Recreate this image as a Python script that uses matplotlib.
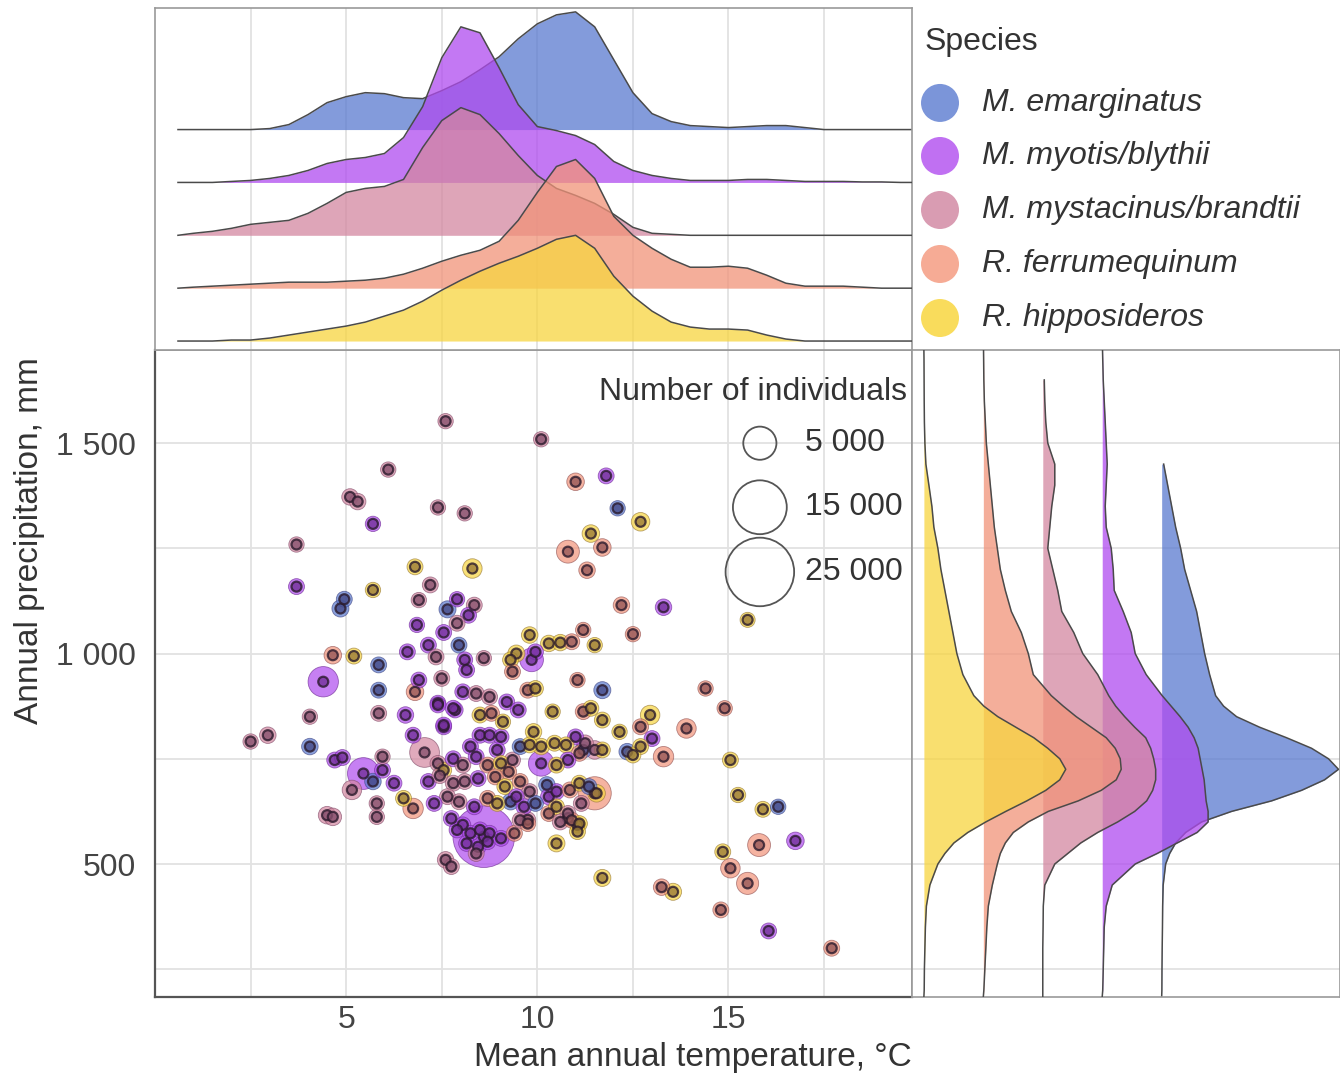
import numpy as np
import matplotlib
matplotlib.use('Agg')
import matplotlib.pyplot as plt
from matplotlib.colors import to_rgb

plt.rcParams['font.family'] = ['Liberation Sans', 'DejaVu Sans']
TXT = '#333333'

SPECIES = ['M. emarginatus', 'M. myotis/blythii', 'M. mystacinus/brandtii',
           'R. ferrumequinum', 'R. hipposideros']
FILL = ['#5a7acf', '#af4bef', '#d387a0', '#f19379', '#f7d53f']
LEG_COL = ['#7b95d9', '#c070f2', '#d99cb2', '#f6ab95', '#f9dc5c']

# sites: temperature (C), precipitation (mm), species index, number of individuals
TEMP = [7.6, 10.1, 6.1, 11.8, 11.0, 5.1, 5.3, 7.4, 8.1, 12.1, 12.7, 5.7, 11.4, 11.7, 10.8,
        3.7, 11.3, 8.3, 6.8, 3.7, 7.2, 5.7, 4.95, 4.85, 6.9, 7.9, 7.65, 8.35, 8.2, 7.9,
        12.2, 13.3, 15.5, 9.8, 10.3, 10.6, 10.9, 11.2, 11.5, 12.5, 6.85, 7.55, 7.95, 7.15,
        7.35, 6.6, 8.1, 4.65, 5.2, 5.85, 9.85, 9.45, 9.95, 9.3, 4.4, 11.05, 14.4, 11.7,
        5.85, 6.8, 6.9, 4.05, 2.5, 2.95, 4.05, 5.85, 6.55, 6.75, 7.55, 7.85, 10.4, 11.2,
        11.4, 11.7, 12.15, 12.95, 12.7, 13.0, 13.9, 14.9, 15.05, 15.25, 15.9, 16.3, 16.75,
        15.8, 14.85, 15.05, 15.5, 14.8, 16.05, 17.7, 11.7, 13.25, 13.55, 13.3, 12.7, 12.35,
        11.2, 11.0, 11.5, 10.5, 11.05, 10.8, 10.3, 9.75, 9.3, 8.6, 7.6, 7.75, 7.05, 5.45,
        5.7, 5.15, 5.8, 5.8, 4.5, 4.65, 4.7, 4.9, 6.75, 6.5, 10.1,
        8.15, 8.6, 7.5, 8.05, 8.4, 8.75, 7.8, 7.4, 8.5, 8.8, 9.2, 9.5, 9.1, 7.55, 9.35,
        9.75, 9.95, 9.9, 8.5, 8.75, 9.05, 8.25, 8.95, 9.35, 9.55, 9.8, 10.1, 10.45, 10.75,
        11.25, 11.5, 11.1, 10.8, 10.5, 11.7, 12.5, 7.4, 7.55, 7.8, 8.05, 8.4, 8.7, 9.05,
        9.25, 7.15, 7.45, 7.8, 8.1, 8.45, 8.9, 9.15, 9.55, 9.8, 10.25, 10.5, 10.85, 11.1,
        11.35, 11.55, 7.65, 7.3, 7.95, 8.35, 8.7, 8.95, 9.45, 9.65, 9.95, 10.3, 10.5, 10.8,
        11.15, 7.75, 8.05, 7.9, 8.25, 8.5, 8.75, 8.15, 8.45, 8.7, 9.05, 8.4, 9.4, 9.55,
        9.75, 10.6, 10.9, 11.1, 11.05, 7.4, 5.95, 6.25, 5.95]
PRECIP = [1552, 1509, 1437, 1422, 1408, 1372, 1361, 1347, 1333, 1345, 1313, 1308, 1285, 1252,
          1242, 1259, 1198, 1202, 1206, 1159, 1163, 1151, 1129, 1107, 1127, 1129, 1105, 1115,
          1091, 1072, 1115, 1110, 1080, 1044, 1024, 1026, 1028, 1056, 1020, 1046, 1068, 1050,
          1020, 1020, 992, 1004, 985, 996, 994, 973, 985, 1000, 1004, 985, 933, 937, 917, 913,
          913, 909, 937, 850, 791, 806, 779, 858, 854, 806, 826, 866, 862, 862,
          870, 842, 814, 854, 826, 798, 822, 870, 747, 664, 630, 636, 555,
          545, 529, 490, 454, 391, 341, 300, 467, 445, 434, 755, 779, 767,
          771, 802, 668, 549, 593, 609, 620, 605, 648, 565, 510, 494, 765, 715,
          696, 676, 644, 612, 616, 612, 747, 753, 632, 656, 739,
          961, 989, 941, 909, 905, 897, 870, 882, 854, 858, 885, 866, 838, 830, 957,
          913, 917, 814, 806, 806, 802, 779, 771, 747, 779, 783, 779, 787, 783,
          787, 771, 763, 747, 735, 771, 759, 739, 723, 750, 735, 755, 735, 739,
          719, 696, 710, 692, 696, 703, 707, 684, 696, 672, 688, 672, 676, 692,
          684, 668, 660, 644, 648, 636, 656, 644, 660, 636, 644, 660, 636, 620,
          644, 608, 593, 581, 573, 581, 573, 549, 541, 553, 561, 525, 573, 604,
          596, 600, 604, 596, 577, 878, 723, 692, 755]
SPECIES_ID = [2, 2, 2, 1, 3, 2, 2, 2, 2, 0, 4, 1, 4, 3, 3,
              2, 3, 4, 4, 1, 2, 4, 0, 0, 2, 1, 0, 2, 1, 2,
              3, 1, 4, 4, 4, 4, 3, 3, 4, 3, 1, 1, 0, 1,
              2, 1, 1, 3, 4, 0, 1, 4, 1, 4, 1, 3, 3, 0,
              0, 3, 1, 2, 2, 2, 0, 2, 1, 1, 1, 1, 4, 3,
              4, 4, 4, 4, 3, 1, 3, 3, 4, 4, 4, 0, 1,
              3, 4, 3, 3, 3, 1, 3, 4, 3, 4, 3, 4, 0,
              0, 1, 3, 4, 4, 3, 3, 2, 0, 1, 2, 2, 2, 1,
              0, 2, 2, 2, 2, 2, 1, 1, 3, 4, 1,
              1, 2, 2, 1, 2, 2, 1, 1, 4, 3, 1, 1, 4, 1, 3,
              3, 4, 4, 1, 1, 1, 1, 1, 2, 0, 4, 4, 4, 4,
              2, 2, 3, 1, 4, 4, 4, 2, 4, 1, 2, 1, 3, 4,
              3, 1, 2, 2, 2, 1, 3, 4, 3, 2, 0, 1, 3, 4,
              0, 4, 2, 1, 2, 1, 3, 4, 1, 1, 0, 1, 4, 2,
              2, 1, 1, 1, 1, 1, 1, 1, 1, 1, 1, 2, 3, 2,
              3, 2, 3, 4, 4, 1, 1, 1, 2]
N_IND = [200, 200, 200, 300, 600, 400, 400, 200, 200, 200, 800, 200, 600, 600, 1800,
         200, 400, 1000, 300, 300, 300, 200, 300, 500, 200, 200, 500, 300, 300, 300,
         400, 400, 150, 400, 400, 400, 300, 200, 200, 200, 200, 300, 300, 300,
         300, 300, 300, 600, 300, 300, 2000, 500, 300, 300, 4000, 200, 200, 500,
         300, 600, 300, 200, 200, 400, 400, 300, 400, 300, 300, 300, 200, 300,
         300, 300, 200, 1000, 300, 300, 1000, 200, 300, 200, 300, 200, 600,
         1800, 300, 1000, 1600, 300, 300, 300, 500, 400, 500, 1200, 300, 400,
         400, 300, 5000, 500, 300, 300, 300, 300, 400, 20000, 400, 300, 3800, 4500,
         400, 1000, 200, 200, 600, 600, 300, 300, 1200, 300, 2500,
         300, 200, 300, 300, 300, 300, 300, 300, 300, 300, 300, 300, 200, 300, 300,
         300, 300, 400, 300, 300, 300, 300, 300, 300, 300, 300, 400, 300, 300,
         400, 800, 300, 300, 300, 300, 300, 300, 300, 300, 300, 300, 300, 300,
         300, 300, 300, 300, 300, 300, 300, 300, 300, 300, 400, 300, 300, 300,
         300, 600, 300, 300, 300, 300, 300, 300, 300, 300, 300, 400, 300, 300,
         300, 300, 300, 300, 300, 300, 300, 300, 300, 300, 300, 300, 300, 300,
         300, 300, 300, 300, 300, 300, 300, 300, 200]

# marginal density curves (relative height)
TEMP_GRID = [0.6, 1.0, 1.5, 2.0, 2.5, 3.0, 3.5, 4.0, 4.5, 5.0, 5.5, 6.0, 6.5, 7.0, 7.5, 8.0,
             8.5, 9.0, 9.5, 10.0, 10.5, 11.0, 11.5, 12.0, 12.5, 13.0, 13.5, 14.0, 14.5, 15.0,
             15.5, 16.0, 16.5, 17.0, 17.5, 18.0, 18.5, 19.0, 19.5, 19.8]
TEMP_DENS = [
    [0, 0, 0, 0, 0, 1, 5, 15, 27, 33, 37, 36, 32, 31, 39, 48, 60, 73, 91, 106, 115, 118,
     103, 70, 37, 16, 8, 4, 3, 2, 3, 4, 4, 2, 0, 0, 0, 0, 0, 0],
    [0, 0, 0, 1, 2, 4, 7, 12, 19, 23, 25, 29, 45, 76, 125, 156, 150, 115, 78, 56, 52, 47,
     38, 21, 12, 7, 4, 2, 2, 2, 3, 3, 2, 1, 1, 1, 0.5, 0.5, 0, 0],
    [0, 2, 4, 7, 11, 13, 15, 22, 32, 43, 47, 49, 56, 88, 115, 128, 121, 102, 80, 60, 47, 40,
     32, 21, 8, 2, 1, 0, 0, 0, 0, 0, 0, 0, 0, 0, 0, 0, 0, 0],
    [0, 1, 2, 3, 4, 5, 6, 6, 6, 7, 8, 10, 14, 20, 27, 33, 38, 47, 68, 96, 122, 129, 110, 72,
     53, 40, 29, 21, 21, 22, 20, 13, 5, 2, 2, 2, 1, 0, 0, 0],
    [0, 0, 0, 1, 1, 3, 6, 9, 12, 15, 19, 25, 31, 40, 51, 61, 70, 78, 85, 93, 102, 106, 93,
     65, 45, 30, 19, 14, 12, 12, 11, 6, 2, 0, 0, 0, 0, 0, 0, 0],
]
nan = np.nan
PRECIP_GRID = [185, 200, 250, 300, 350, 400, 450, 500, 525, 550, 575, 600, 625, 650, 675,
               700, 725, 750, 775, 800, 825, 850, 875, 900, 950, 1000, 1050, 1100, 1150,
               1200, 1250, 1300, 1350, 1400, 1450, 1500, 1550, 1600, 1650, 1700, 1720]
PRECIP_DENS = [
    [0, 0.2, 0.3, 0.5, 0.8, 1, 1.5, 4, 8, 14, 24, 40, 70, 110, 140, 163, 177, 167, 150, 125,
     98, 75, 62, 54, 48, 43, 39, 35, 29, 23, 19, 14, 10, 6, 2, nan, nan, nan, nan, nan, nan],
    [0, 0.5, 1, 1.5, 2, 4, 10, 33, 55, 75, 95, 106, 106, 104, 103, 102, 100, 98, 96, 92, 86,
     78, 69, 60, 44, 33, 29, 21, 12, 11, 9, 4, 3, 4, 5, 4, 3, 2, 1, 0.5, 0.3],
    [0, 0, 0, 0, 0.3, 0.5, 2, 12, 25, 38, 55, 75, 92, 104, 110, 113, 113, 111, 108, 103, 92,
     82, 73, 66, 55, 40, 31, 19, 15, 10, 5, 7, 9, 12, 12, 5, 3, 2, 1.5, nan, nan],
    [0, 0.5, 1.5, 2.5, 3.5, 5, 9, 14, 17, 22, 30, 45, 65, 95, 118, 133, 138, 137, 132, 123,
     108, 93, 80, 68, 50, 45, 38, 28, 22, 17, 14, 11, 9, 7, 5, 3, 2, 1, 0.5, 0.3, 0.2],
    [0, 0.3, 0.5, 1, 1.5, 2.5, 6, 14, 21, 30, 44, 62, 82, 103, 122, 136, 142, 136, 124, 110,
     92, 74, 60, 50, 39, 33, 29, 25, 21, 17, 14, 10, 8, 5, 2, 1, 0.5, 0.3, 0.2, 0.1, 0],
]

SIZE_LEGEND = [5000, 15000, 25000]
SIZE_LABELS = ['5 000', '15 000', '25 000']
XTICKS = [5, 10, 15]
YTICKS = [500, 1000, 1500]
YTICK_LABELS = ['500', '1 000', '1 500']

XLIM = (0, 19.8)
YLIM = (184, 1721)


def marker_area(n):
    d_px = np.sqrt(200 + 0.18 * np.asarray(n, dtype=float))
    return (d_px * 0.72) ** 2


def darker(c, f=0.5):
    r, g, b = to_rgb(c)
    d = to_rgb('#2a1030')
    return (r * (1 - f) + d[0] * f, g * (1 - f) + d[1] * f, b * (1 - f) + d[2] * f)


fig = plt.figure(figsize=(13.4, 10.78), dpi=100)
ax = fig.add_axes([0.1157, 0.0751, 0.5649, 0.6002])
axt = fig.add_axes([0.1157, 0.6753, 0.5649, 0.3173])
axr = fig.add_axes([0.6806, 0.0751, 0.3194, 0.6002])

grid_kw = dict(color='#e2e2e2', lw=1.3, zorder=0)
for a in (ax, axt, axr):
    for sp in a.spines.values():
        sp.set_color('#999999')
        sp.set_linewidth(1.2)

# main scatter: bubble sized by count + small dark-rimmed site marker
t = np.array(TEMP)
p = np.array(PRECIP)
sid = np.array(SPECIES_ID)
n = np.array(N_IND)
order = np.argsort(-n, kind='stable')
cols = np.array(FILL)[sid[order]]
dark_cols = [darker(FILL[k], 0.45) for k in sid[order]]
ax.scatter(t[order], p[order], s=marker_area(n[order]), c=cols, alpha=0.7,
           edgecolors=dark_cols, lw=0.6, zorder=3)
ax.scatter(t[order], p[order], s=(10 * 0.72) ** 2, c=dark_cols, edgecolors='#2a1a2c',
           lw=1.6, alpha=0.8, zorder=4)

ax.set_xlim(*XLIM)
ax.set_ylim(*YLIM)
ax.set_xticks(XTICKS)
ax.set_xticks([2.5, 7.5, 12.5, 17.5], minor=True)
ax.set_yticks(YTICKS)
ax.set_yticklabels(YTICK_LABELS)
ax.set_yticks([250, 750, 1250], minor=True)
ax.grid(True, which='both', **grid_kw)
ax.set_axisbelow(True)
ax.tick_params(which='both', length=0)
ax.tick_params(axis='x', labelsize=23, colors='#444444', pad=6)
ax.tick_params(axis='y', labelsize=23, colors='#444444', pad=14)
ax.spines['left'].set_color('#555555')
ax.spines['bottom'].set_color('#555555')
ax.spines['left'].set_linewidth(1.6)
ax.spines['bottom'].set_linewidth(1.6)

# size legend
ax.text(0.993, 0.935, 'Number of individuals', transform=ax.transAxes, ha='right',
        va='center', fontsize=23, color=TXT)
leg_y = [0.856, 0.757, 0.657]
ax.scatter([0.799] * 3, leg_y, s=marker_area(SIZE_LEGEND), transform=ax.transAxes,
           facecolors='none', edgecolors='#555555', lw=1.3, zorder=5, clip_on=False)
for yy, lab in zip(leg_y, SIZE_LABELS):
    ax.text(0.859, yy, lab, transform=ax.transAxes, ha='left', va='center',
            fontsize=23, color=TXT)

# top ridgelines (temperature)
for i in range(5):
    base = 4 - i
    h = base + np.array(TEMP_DENS[i]) / 53.0
    axt.fill_between(TEMP_GRID, base, h, color=FILL[i], alpha=0.75, lw=0, zorder=2 + i)
    axt.plot(TEMP_GRID, h, color='#4a4a4a', lw=1.1, zorder=2 + i)
axt.set_xlim(*XLIM)
axt.set_ylim(-0.17, 6.3)
axt.set_xticks([2.5, 5, 7.5, 10, 12.5, 15, 17.5])
axt.grid(True, axis='x', **grid_kw)
axt.set_axisbelow(True)
axt.tick_params(which='both', length=0, labelbottom=False, labelleft=False)
axt.set_yticks([])

# right ridgelines (precipitation)
for i in range(5):
    base = 4 - i
    w = base + np.array(PRECIP_DENS[i]) / 59.5
    axr.fill_betweenx(PRECIP_GRID, base, w, color=FILL[i], alpha=0.75, lw=0, zorder=2 + i)
    axr.plot(w, PRECIP_GRID, color='#4a4a4a', lw=1.1, zorder=2 + i)
axr.set_xlim(-0.2, 7.0)
axr.set_ylim(*YLIM)
axr.set_yticks([250, 500, 750, 1000, 1250, 1500])
axr.grid(True, axis='y', **grid_kw)
axr.set_axisbelow(True)
axr.tick_params(which='both', length=0, labelbottom=False, labelleft=False)
axr.set_xticks([])

# axis titles
fig.text(0.022, 0.499, 'Annual precipitation, mm', rotation=90, ha='center', va='center',
         fontsize=24, color=TXT)
fig.text(0.6806, 0.019, 'Mean annual temperature, \u00b0C', ha='right', va='center',
         fontsize=24, color=TXT)

# species legend
fig.text(0.6903, 0.961, 'Species', ha='left', va='center', fontsize=23, color=TXT)
leg_rows = [0.9045, 0.8553, 0.8052, 0.7551, 0.705]
for yy, lab in zip(leg_rows, SPECIES):
    fig.text(0.733, yy, lab, ha='left', va='center', fontsize=23, style='italic', color=TXT)
lax = fig.add_axes([0, 0, 1, 1], facecolor='none')
lax.set_xlim(0, 1)
lax.set_ylim(0, 1)
lax.axis('off')
lax.scatter([0.7015] * 5, leg_rows, s=(38 * 0.72) ** 2, c=LEG_COL, lw=0)

fig.savefig('out.png', dpi=100, facecolor='white')
